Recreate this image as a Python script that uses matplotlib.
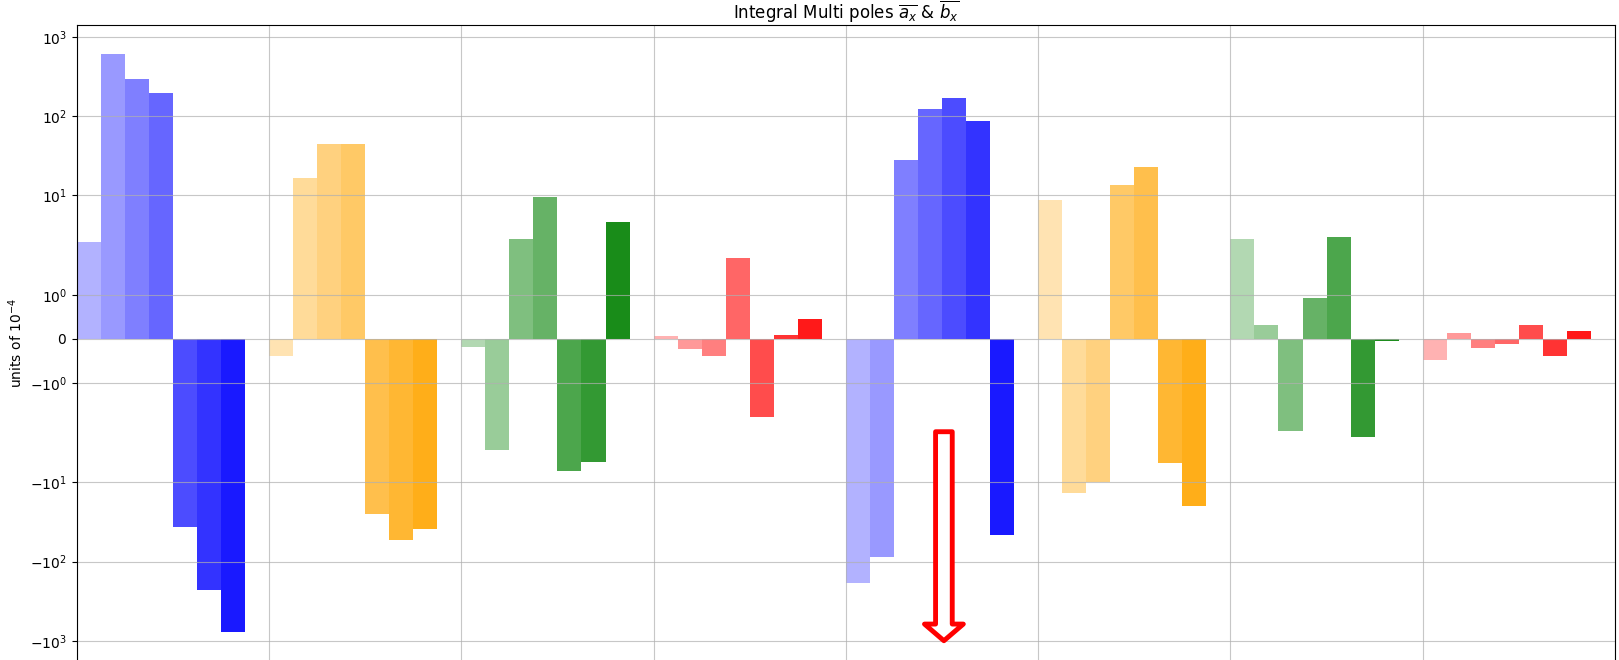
import numpy as np
import matplotlib.pyplot as plt

# multipole integrals, seven orders per group (units of 1e-4)
ax1 = [2.6, 608, 292, 194, -36.7, -228, -778]
ax2 = [-0.38, 16.7, 44.2, 45.2, -24.8, -53.1, -39.0]
ax3 = [-0.18, -3.89, 2.8, 9.64, -7.19, -5.56, 4.68]
ax4 = [0.058, -0.24, -0.39, 1.84, -1.77, 0.096, 0.46]
bx1 = [-188, -88.8, 28.0, 125, 168, 86.5, -46.9]
bx2 = [8.85, -13.6, -9.9, 13.6, 22.7, -5.7, -19.9]
bx3 = [2.8, 0.32, -2.27, 0.93, 2.97, -2.69, -0.04]
bx4 = [-0.47, 0.14, -0.2, -0.12, 0.32, -0.39, 0.19]

groups = [ax1, ax2, ax3, ax4, bx1, bx2, bx3, bx4]
colors = ['blue', 'orange', 'green', 'red', 'blue', 'orange', 'green', 'red']
alphas = [0.3, 0.4, 0.5, 0.6, 0.7, 0.8, 0.9]

fig = plt.figure(figsize=(16.19, 6.6), dpi=100)
ax = fig.add_axes([0.0474, -0.0015, 0.9501, 0.9632])

w = 1 / 8
for g, vals in enumerate(groups):
    for j, v in enumerate(vals):
        ax.bar(g + j * w, v, width=w, align='edge', color=colors[g], alpha=alphas[j])

ax.set_yscale('symlog', linthresh=2)
ax.set_xlim(0, 8)
ax.set_xticks(range(9))
ax.set_xticklabels([])
ax.grid(True, alpha=0.7)

ax.annotate('', xy=(4.51, -1000), xytext=(4.51, -2.3),
            arrowprops=dict(facecolor='white', edgecolor='red', lw=3.5,
                            width=12, headwidth=28, headlength=12))

ax.set_title(r'Integral Multi poles $\overline{a_x}$ & $\overline{b_x}$', pad=4.5)
ax.set_ylabel(r'units of $10^{-4}$')

fig.savefig('out.png', dpi=100)
